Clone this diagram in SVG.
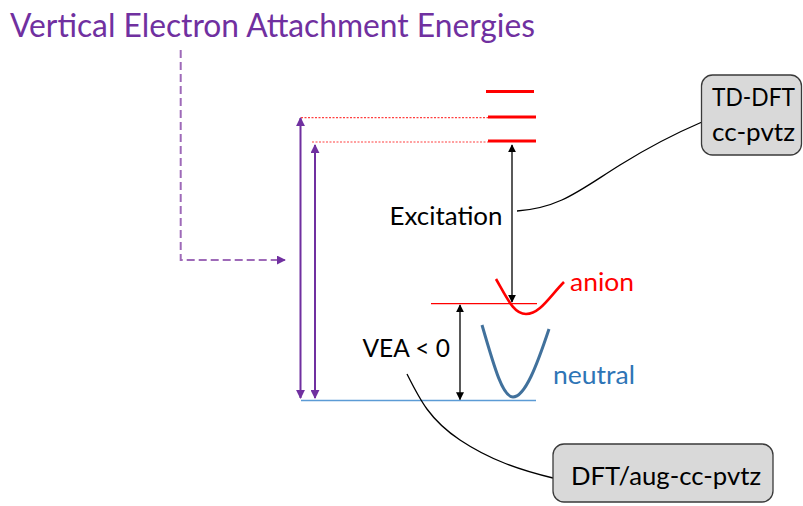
<svg xmlns="http://www.w3.org/2000/svg" width="803" height="506" viewBox="0 0 803 506">
<defs>
<style>
text{font-family:Lato,"Open Sans","Liberation Sans",sans-serif}
.lbl{font-size:25px;fill:#000}
.box{fill:#d9d9d9;stroke:#3a3a3a;stroke-width:1.3}
.lvl{stroke:#ff0000;stroke-width:3}
.dot{stroke:#ff4040;stroke-width:1.2;stroke-dasharray:2 1.5}
.pa{stroke:#7030a0;stroke-width:2;fill:none}
.ba{stroke:#000;stroke-width:1.3;fill:none}
.cn{stroke:#000;stroke-width:1.3;fill:none}
</style>
<marker id="apu" viewBox="0 0 10 10" refX="9" refY="5" markerWidth="9" markerHeight="9" orient="auto-start-reverse" markerUnits="userSpaceOnUse"><path d="M0,0 L10,5 L0,10 z" fill="#7030a0"/></marker>
<marker id="ab" viewBox="0 0 10 10" refX="9" refY="5" markerWidth="8" markerHeight="8" orient="auto-start-reverse" markerUnits="userSpaceOnUse"><path d="M0,0 L10,5 L0,10 z" fill="#000"/></marker>
</defs>
<rect width="803" height="506" fill="#fff"/>
<text id="title" x="10" y="37" font-size="32" fill="#7030a0" textLength="525" lengthAdjust="spacingAndGlyphs">Vertical Electron Attachment Energies</text>

<g id="levels">
<line class="lvl" x1="486" y1="91.5" x2="534" y2="91.5"/>
<line class="lvl" x1="488" y1="117" x2="536" y2="117"/>
<line class="lvl" x1="488" y1="141" x2="536" y2="141"/>
<line class="dot" x1="301" y1="117.7" x2="488" y2="117.7"/>
<line class="dot" x1="312" y1="142" x2="488" y2="142"/>
</g>

<g id="baseline">
<line x1="301" y1="400.5" x2="536" y2="400.5" stroke="#5b9bd5" stroke-width="1.3"/>
<line x1="431" y1="303.7" x2="537" y2="303.7" stroke="#ff0000" stroke-width="1.2"/>
</g>

<g id="anion">
<path d="M496,279 C508,300 514,314 526,314 C540,314 550,296 564,282" stroke="#ff0000" stroke-width="2.6" fill="none"/>
<text x="570" y="290.5" font-size="25" fill="#ff0000" textLength="64" lengthAdjust="spacingAndGlyphs">anion</text>
</g>
<g id="neutral">
<path d="M482,325 C495,370 503,397 513,397 C525,397 537,365 549,329" stroke="#41719c" stroke-width="3" fill="none"/>
<text x="553" y="383.5" font-size="25" fill="#2e75b6" textLength="82" lengthAdjust="spacingAndGlyphs">neutral</text>
</g>

<g id="connectors">
<path d="M180.7,50 V260 H285" stroke="#9e6ab8" stroke-width="2" stroke-dasharray="8 4" fill="none" marker-end="url(#apu)"/>
<line class="pa" x1="300.5" y1="398" x2="300.5" y2="118" marker-start="url(#apu)" marker-end="url(#apu)"/>
<line class="pa" x1="315" y1="398" x2="315" y2="145" marker-start="url(#apu)" marker-end="url(#apu)"/>
<line class="ba" x1="512" y1="145" x2="512" y2="302" marker-start="url(#ab)" marker-end="url(#ab)"/>
<line class="ba" x1="460" y1="305" x2="460" y2="399.5" marker-start="url(#ab)" marker-end="url(#ab)"/>
<path class="cn" d="M517,211 C560,208 580,190 620,165 C660,140 688,128 702,122"/>
<path class="cn" d="M407,374 C420,400 430,420 460,440 C490,460 520,470 553,478"/>
</g>

<g id="excitation"><text class="lbl" x="389.5" y="225" textLength="113" lengthAdjust="spacingAndGlyphs">Excitation</text></g>
<g id="vea"><text class="lbl" x="362.5" y="357" textLength="87.5" lengthAdjust="spacingAndGlyphs">VEA &lt; 0</text></g>

<g id="tddft">
<rect class="box" x="701.5" y="75" width="100" height="80" rx="11"/>
<text class="lbl" x="712" y="106" textLength="83" lengthAdjust="spacingAndGlyphs">TD-DFT</text>
<text class="lbl" x="712" y="141" textLength="83" lengthAdjust="spacingAndGlyphs">cc-pvtz</text>
</g>
<g id="dft">
<rect class="box" x="553" y="444" width="220" height="58" rx="11"/>
<text class="lbl" x="571" y="485" textLength="190" lengthAdjust="spacingAndGlyphs">DFT/aug-cc-pvtz</text>
</g>
</svg>
